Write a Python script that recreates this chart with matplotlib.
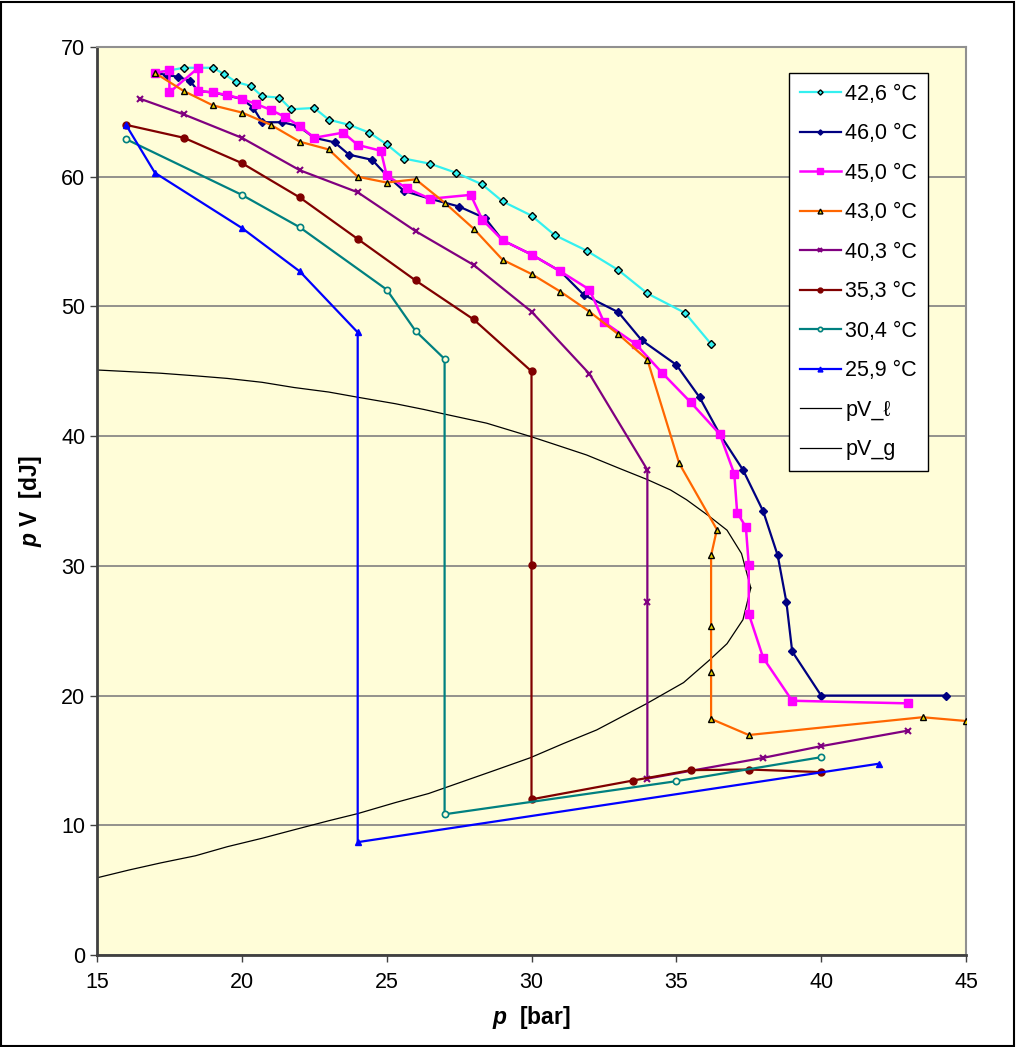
import matplotlib
matplotlib.use("Agg")
import matplotlib.pyplot as plt
from matplotlib.patches import Rectangle

plt.rcParams['font.family'] = ['Liberation Sans', 'DejaVu Sans']
plt.rcParams['mathtext.fontset'] = 'custom'
plt.rcParams['mathtext.rm'] = 'Liberation Sans'
plt.rcParams['mathtext.bf'] = 'Liberation Sans:bold'
plt.rcParams['mathtext.it'] = 'Liberation Sans:italic'
plt.rcParams['mathtext.bfit'] = 'Liberation Sans:bold:italic'

# ---------------- data ----------------
p_426 = [17.0, 18.0, 19.0, 19.4, 19.8, 20.3, 20.7, 21.3, 21.7, 22.5, 23.0, 23.7, 24.4, 25.0, 25.6,
         26.5, 27.4, 28.3, 29.0, 30.0, 30.8, 31.9, 33.0, 34.0, 35.3, 36.2]
v_426 = [68.0, 68.4, 68.4, 67.9, 67.3, 67.0, 66.2, 66.1, 65.2, 65.3, 64.4, 64.0, 63.4, 62.5, 61.4,
         61.0, 60.3, 59.4, 58.1, 57.0, 55.5, 54.3, 52.8, 51.0, 49.5, 47.1]

p_460 = [17.0, 17.4, 17.8, 18.2, 18.5, 19.0, 20.0, 20.4, 20.7, 21.4, 21.95, 22.5, 23.2, 23.7, 24.5,
         25.0, 25.6, 26.5, 27.5, 28.4, 29.0, 30.0, 31.0, 31.8, 33.0, 33.8, 35.0, 35.8, 36.5, 37.3,
         38.0, 38.5, 38.8, 39.0, 40.0, 44.3]
v_460 = [68.0, 67.85, 67.7, 67.4, 66.6, 66.5, 66.0, 65.3, 64.2, 64.2, 63.9, 63.0, 62.65, 61.7, 61.3,
         60.1, 58.9, 58.3, 57.7, 56.8, 55.1, 54.0, 52.7, 50.9, 49.55, 47.4, 45.5, 43.0, 40.15, 37.4,
         34.2, 30.8, 27.2, 23.4, 20.0, 20.0]

p_450 = [17.0, 17.5, 17.5, 18.5, 18.5, 19.0, 19.5, 20.0, 20.5, 21.0, 21.5, 22.0, 22.5, 23.5, 24.0,
         24.8, 25.0, 25.7, 26.5, 27.9, 28.3, 29.0, 30.0, 31.0, 32.0, 32.5, 33.6, 34.5, 35.5, 36.5,
         37.0, 37.1, 37.4, 37.5, 37.5, 38.0, 39.0, 43.0]
v_450 = [68.0, 68.2, 66.5, 68.4, 66.6, 66.5, 66.3, 66.0, 65.6, 65.15, 64.6, 63.9, 63.0, 63.4, 62.45,
         62.0, 60.1, 59.1, 58.3, 58.6, 56.7, 55.1, 54.0, 52.7, 51.3, 48.8, 47.1, 44.9, 42.6, 40.15,
         37.1, 34.1, 33.0, 30.1, 26.3, 22.9, 19.6, 19.4]

p_430 = [17.0, 18.0, 19.0, 20.0, 21.0, 22.0, 23.0, 24.0, 25.0, 26.0, 27.0, 28.0, 29.0, 30.0, 31.0,
         32.0, 33.0, 34.0, 35.1, 36.4, 36.2, 36.2, 36.2, 36.2, 37.5, 43.5, 45.0]
v_430 = [68.0, 66.6, 65.5, 64.95, 64.0, 62.7, 62.1, 60.0, 59.55, 59.8, 58.0, 56.0, 53.6, 52.5, 51.14,
         49.6, 47.85, 45.9, 37.9, 32.8, 30.8, 25.4, 21.8, 18.2, 16.96, 18.33, 18.04]

p_403 = [16.5, 18.0, 20.0, 22.0, 24.0, 26.0, 28.0, 30.0, 32.0, 34.0, 34.0, 34.0, 38.0, 40.0, 43.0]
v_403 = [66.0, 64.8, 63.0, 60.5, 58.8, 55.8, 53.2, 49.6, 44.8, 37.4, 27.2, 13.6, 15.2, 16.1, 17.3]

p_353 = [16.0, 18.0, 20.0, 22.0, 24.0, 26.0, 28.0, 30.0, 30.0, 30.0, 33.5, 35.5, 37.5, 40.0]
v_353 = [64.0, 63.0, 61.05, 58.4, 55.2, 52.0, 49.0, 45.0, 30.1, 12.0, 13.45, 14.25, 14.3, 14.1]

p_304 = [16.0, 20.0, 22.0, 25.0, 26.0, 27.0, 27.0, 35.0, 40.0]
v_304 = [62.9, 58.6, 56.1, 51.3, 48.1, 45.95, 10.85, 13.4, 15.25]

p_259 = [16.0, 17.0, 20.0, 22.0, 24.0, 24.0, 42.0]
v_259 = [64.0, 60.3, 56.05, 52.7, 48.0, 8.7, 14.75]

p_liq = [15.0, 17.2, 18.4, 19.5, 20.7, 21.8, 23.0, 24.0, 25.3, 26.3, 27.0, 28.45, 30.0, 30.75, 31.9,
         33.05, 34.0, 34.8, 35.35, 36.15, 36.75, 37.25, 37.57]
v_liq = [45.1, 44.85, 44.65, 44.45, 44.15, 43.75, 43.4, 43.0, 42.5, 42.05, 41.7, 41.0, 39.95, 39.4, 38.55,
         37.5, 36.65, 35.85, 35.1, 33.8, 32.75, 30.95, 28.3]

p_gas = [15.0, 16.1, 17.2, 18.4, 19.5, 20.7, 21.8, 23.0, 24.0, 25.3, 26.45, 27.6, 28.75, 29.95, 31.1,
         32.25, 33.95, 35.25, 36.15, 36.75, 37.3, 37.57]
v_gas = [5.95, 6.55, 7.1, 7.65, 8.35, 9.0, 9.65, 10.35, 10.9, 11.75, 12.45, 13.35, 14.25, 15.2, 16.3,
         17.35, 19.35, 21.0, 22.75, 24.0, 25.85, 28.3]

labels = ['42,6 °C', '46,0 °C', '45,0 °C', '43,0 °C', '40,3 °C', '35,3 °C', '30,4 °C', '25,9 °C',
          'pV_ℓ', 'pV_g']
x_ticks = [15, 20, 25, 30, 35, 40, 45]
y_ticks = [0, 10, 20, 30, 40, 50, 60, 70]

# ---------------- figure ----------------
fig = plt.figure(figsize=(10.16, 10.47), dpi=100)
fig.patch.set_facecolor('white')
ax = fig.add_axes([97/1016, 1-955/1047, (966-97)/1016, (955-47)/1047])
ax.set_facecolor('#FFFDD8')

series = [
    (p_426, v_426, dict(color='#33F0F0', marker='D', ms=3.8, mfc='#33F0F0', mec='black', mew=1.0, lw=1.6)),
    (p_460, v_460, dict(color='#000080', marker='D', ms=3.8, mfc='#000080', mec='#000080', lw=1.6)),
    (p_450, v_450, dict(color='#FF00FF', marker='s', ms=5.5, mfc='#FF00FF', mec='#FF00FF', lw=1.8)),
    (p_430, v_430, dict(color='#FF6600', marker='^', ms=5, mfc='#E8D000', mec='black', mew=1.0, lw=1.6)),
    (p_403, v_403, dict(color='#800080', marker='x', ms=4, mec='#800080', mew=1.5, lw=1.6)),
    (p_353, v_353, dict(color='#800000', marker='o', ms=5, mfc='#800000', mec='#800000', lw=1.6)),
    (p_304, v_304, dict(color='#008080', marker='o', ms=4.5, mfc='#FFFDD8', mec='#008080', mew=1.2, lw=1.6)),
    (p_259, v_259, dict(color='#0000FF', marker='^', ms=5, mfc='#0000FF', mec='#0000FF', lw=1.6)),
]
handles = []
for (px, py, st), lab in zip(series, labels[:8]):
    h, = ax.plot(px, py, label=lab, zorder=3, **st)
    handles.append(h)
h1, = ax.plot(p_liq, v_liq, color='black', lw=0.9, label=labels[8], zorder=2)
h2, = ax.plot(p_gas, v_gas, color='black', lw=0.9, label=labels[9], zorder=2)
handles += [h1, h2]

ax.set_xlim(15, 45)
ax.set_ylim(0, 70)
ax.set_xticks(x_ticks)
ax.set_yticks(y_ticks)
ax.yaxis.grid(True, color='#808080', lw=1.2)
ax.set_axisbelow(True)
ax.tick_params(axis='both', direction='out', length=5, width=1, labelsize=15.5, color='#404040')
ax.tick_params(axis='x', pad=7)
for s in ['left', 'bottom']:
    ax.spines[s].set_color('#404040')
    ax.spines[s].set_linewidth(2.0)
for s in ['top', 'right']:
    ax.spines[s].set_color('#909090')
    ax.spines[s].set_linewidth(1.5)

ax.set_xlabel(r'$\mathbfit{p}\ \ \mathbf{[bar]}$', fontsize=16.5, labelpad=8)
ax.set_ylabel(r'$\mathbfit{p}\ \mathbf{V}\ \ \mathbf{[dJ]}$', fontsize=16.5, labelpad=12)

leg = ax.legend(handles=handles, loc='upper right', bbox_to_anchor=(928/1016, 1-73/1047),
                bbox_transform=fig.transFigure, borderaxespad=0, fontsize=15.5, frameon=True,
                fancybox=False, edgecolor='black', framealpha=1, handlelength=1.9,
                handletextpad=0.2, labelspacing=0.86, borderpad=0.5, markerscale=0.7)
leg.get_frame().set_linewidth(1.0)

fig.patches.append(Rectangle((0.001, 0.001), 0.997, 0.997, transform=fig.transFigure,
                             fill=False, edgecolor='black', lw=1.5))

fig.savefig('out.png', dpi=100)
